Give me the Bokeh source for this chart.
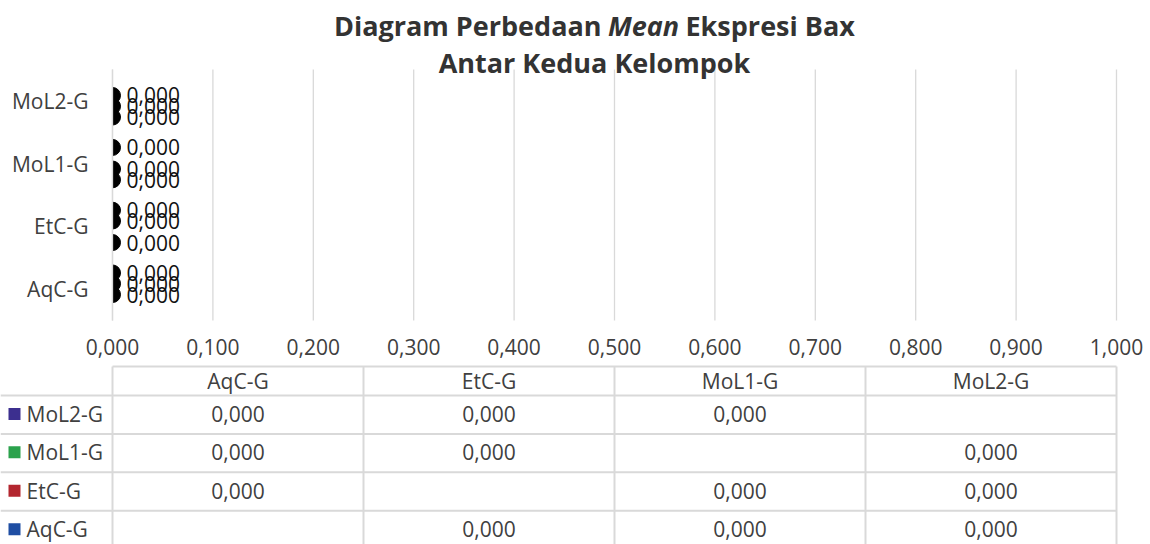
import math
from bokeh.plotting import figure
from bokeh.models import ColumnDataSource, Range1d, FixedTicker, CustomJSTickFormatter
from bokeh.core.properties import value
from bokeh.embed import file_html
from bokeh.resources import INLINE

# ---------------- data ----------------
categories = ["AqC-G", "EtC-G", "MoL1-G", "MoL2-G"]          # bottom -> top
series_names = ["AqC-G", "EtC-G", "MoL1-G", "MoL2-G"]
series_colors = ["#1F4EA3", "#B3262F", "#2BA24C", "#3C2F8F"]
AqC_G = [None, 0.000, 0.000, 0.000]
EtC_G = [0.000, None, 0.000, 0.000]
MoL1_G = [0.000, 0.000, None, 0.000]
MoL2_G = [0.000, 0.000, 0.000, None]
series_values = [AqC_G, EtC_G, MoL1_G, MoL2_G]
x_ticks = [0.0, 0.1, 0.2, 0.3, 0.4, 0.5, 0.6, 0.7, 0.8, 0.9, 1.0]

def fmt(v):
    return f"{v:.3f}".replace(".", ",")

# ---------------- layout constants (page pixels) ----------------
W, H = 1150, 544
FRAME_L, FRAME_R = 112, 1116      # x = 0 and x = 1
FRAME_T, FRAME_B = 69, 320        # top / bottom of category area
PX = (FRAME_R - FRAME_L) / 1.0
CAT_PX = (FRAME_B - FRAME_T) / len(categories)
FONT = "Open Sans"
FS = "21px"
TXT = "#404040"
GRID = "#D9D9D9"

def px_to_x(px):
    return (px - FRAME_L) / PX

def py_to_y(py):
    return (FRAME_B - py) / CAT_PX

p = figure(width=W, height=H, output_backend="svg", toolbar_location=None,
           x_range=Range1d(px_to_x(0), px_to_x(W)),
           y_range=Range1d(py_to_y(H), py_to_y(0)), min_border=0)
p.outline_line_color = None
p.background_fill_color = "white"
p.border_fill_color = "white"
p.grid.grid_line_color = None

ncat = len(categories)
cat_y = [i + 0.5 for i in range(ncat)]

# x axis (value axis) placed at the bottom of the category area
xa = p.xaxis[0]
xa.fixed_location = 0
xa.bounds = (0, 1)
xa.ticker = FixedTicker(ticks=x_ticks)
xa.formatter = CustomJSTickFormatter(code="return tick.toFixed(3).replace('.', ',');")
xa.axis_line_color = None
xa.major_tick_line_color = None
xa.minor_tick_line_color = None
xa.major_tick_out = 0
xa.major_label_standoff = 18
xa.major_label_text_font = FONT
xa.major_label_text_font_size = FS
xa.major_label_text_color = TXT

# y axis (category axis)
ya = p.yaxis[0]
ya.fixed_location = 0
ya.bounds = (0, ncat)
ya.ticker = FixedTicker(ticks=cat_y)
ya.major_label_overrides = {y: c for y, c in zip(cat_y, categories)}
ya.axis_line_color = GRID
ya.axis_line_width = 1.3
ya.major_tick_line_color = None
ya.minor_tick_line_color = None
ya.major_tick_out = 0
ya.major_label_standoff = 24
ya.major_label_text_font = FONT
ya.major_label_text_font_size = FS
ya.major_label_text_color = TXT

# vertical gridlines over the category area
p.segment(x0=x_ticks, y0=[0] * len(x_ticks), x1=x_ticks, y1=[ncat] * len(x_ticks),
          line_color=GRID, line_width=1.3)

# bars, bar markers and data labels
gap_width = 1.82
n = len(series_names)
bar_h = 1.0 / (n + gap_width)
for i, (name, vals, col) in enumerate(zip(series_names, series_values, series_colors)):
    off = (i - (n - 1) / 2) * bar_h
    ys = [cy + off for cy, v in zip(cat_y, vals) if v is not None]
    vs = [v for v in vals if v is not None]
    src = ColumnDataSource(dict(y=ys, val=vs, lab=[fmt(v) for v in vs]))
    p.hbar(y="y", left=0, right="val", height=bar_h, color=col, source=src)
    p.wedge(x="val", y="y", radius=8, radius_units="screen",
            start_angle=-math.pi / 2, end_angle=math.pi / 2,
            color="black", source=src)
    p.text(x="val", y="y", text="lab", x_offset=14, text_baseline="middle",
           text_align="left", text_font=value(FONT), text_font_size=FS,
           text_color="#111111", source=src)

# title (bold with italic "Mean")
tstyle = dict(text_font=value(FONT), text_font_size="27px", text_color="#333333",
              text_baseline="alphabetic")
y1, y2 = py_to_y(25), py_to_y(62)
p.text(x=[px_to_x(601)], y=[y1], text=["Diagram Perbedaan"], text_align="right",
       text_font_style="bold", **tstyle)
p.text(x=[px_to_x(643)], y=[y1], text=["Mean"], text_align="center",
       text_font_style="bold italic", **tstyle)
p.text(x=[px_to_x(685)], y=[y1], text=["Ekspresi Bax"], text_align="left",
       text_font_style="bold", **tstyle)
p.text(x=[px_to_x(594)], y=[y2], text=["Antar Kedua Kelompok"], text_align="center",
       text_font_style="bold", **tstyle)

# ---------------- data table ----------------
HEAD_TOP, HEAD_BOTTOM, ROW_PX = 366, 395, 38.4
rows = list(reversed(series_names))           # table rows top -> bottom
row_cols = list(reversed(series_colors))
row_vals = list(reversed(series_values))
nrow = len(rows)
col_edges = [i / ncat for i in range(ncat + 1)]
centers = [(col_edges[i] + col_edges[i + 1]) / 2 for i in range(ncat)]
y_head_top = py_to_y(HEAD_TOP)
row_edges = [py_to_y(HEAD_BOTTOM + r * ROW_PX) for r in range(nrow + 1)]
row_mid = [py_to_y(HEAD_BOTTOM + (r + 0.48) * ROW_PX) for r in range(nrow)]
y_bottom = py_to_y(H)

p.segment(x0=col_edges, y0=[y_head_top] * len(col_edges), x1=col_edges,
          y1=[y_bottom] * len(col_edges), line_color=GRID, line_width=2)
p.segment(x0=[0], y0=[y_head_top], x1=[1], y1=[y_head_top], line_color=GRID, line_width=2)
p.segment(x0=[px_to_x(0)] * len(row_edges), y0=row_edges, x1=[1] * len(row_edges),
          y1=row_edges, line_color=GRID, line_width=2)

p.text(x=centers, y=[(y_head_top + row_edges[0]) / 2] * ncat, text=categories,
       text_align="center", text_baseline="middle", text_font=value(FONT),
       text_font_size=FS, text_color=TXT)
p.rect(x=[px_to_x(14)] * nrow, y=row_mid, width=12, height=12, width_units="screen",
       height_units="screen", fill_color=row_cols, line_color=None)
p.text(x=[px_to_x(26)] * nrow, y=row_mid, text=rows, text_align="left",
       text_baseline="middle", text_font=value(FONT), text_font_size=FS, text_color=TXT)
cx, cy, ct = [], [], []
for r, vals in enumerate(row_vals):
    for c, v in enumerate(vals):
        if v is not None:
            cx.append(centers[c]); cy.append(row_mid[r]); ct.append(fmt(v))
p.text(x=cx, y=cy, text=ct, text_align="center", text_baseline="middle",
       text_font=value(FONT), text_font_size=FS, text_color=TXT)

open("out.html", "w").write(file_html(p, INLINE))
